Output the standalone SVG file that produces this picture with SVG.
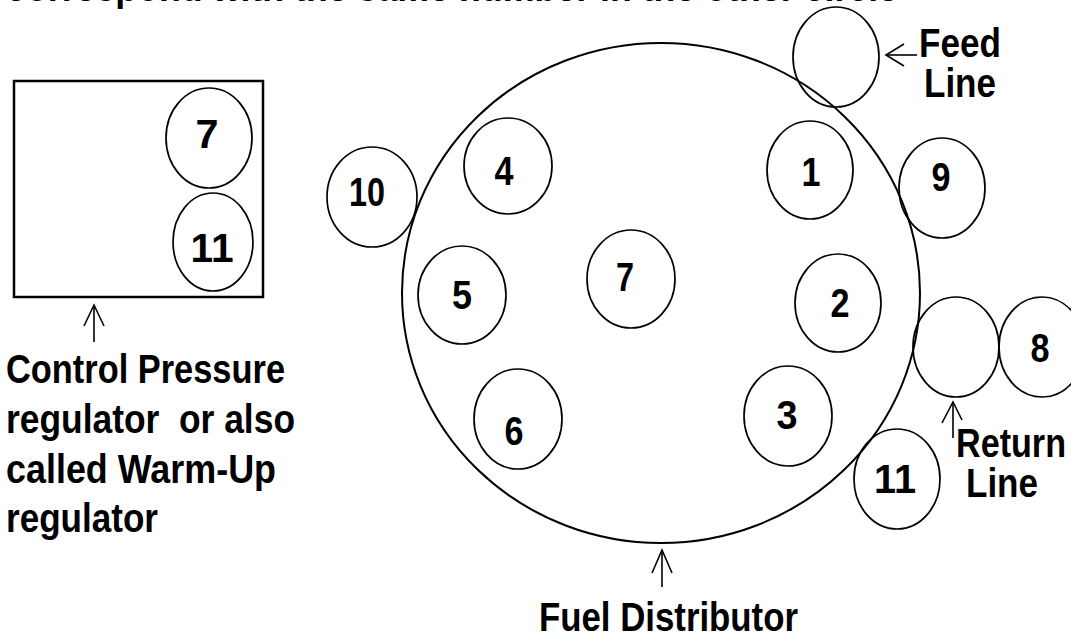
<svg xmlns="http://www.w3.org/2000/svg" width="1071" height="633" viewBox="0 0 1071 633">
<style>
.c{fill:none;stroke:#000;stroke-width:1.7}
.big{fill:none;stroke:#000;stroke-width:2}
.box{fill:none;stroke:#000;stroke-width:2.5}
.t{font-family:"Liberation Sans",Arial,sans-serif;font-weight:bold;font-size:40px;fill:#000;white-space:pre}
.n{font-family:"Liberation Sans",Arial,sans-serif;font-weight:bold;font-size:41px;fill:#000;text-anchor:middle}
.a{fill:none;stroke:#000;stroke-width:1.6}
</style>
<rect width="1071" height="633" fill="#fff"/>
<text class="t" x="6" y="1" textLength="892" lengthAdjust="spacingAndGlyphs">correspond with the same number in the other circle</text>
<g id="control-pressure-regulator">
<rect class="box" x="14" y="81" width="249" height="216"/>
<text class="t" x="6" y="383" textLength="279" lengthAdjust="spacingAndGlyphs">Control Pressure</text>
<text class="t" x="6" y="433" textLength="289" lengthAdjust="spacingAndGlyphs">regulator  or also</text>
<text class="t" x="6" y="483" textLength="270" lengthAdjust="spacingAndGlyphs">called Warm-Up</text>
<text class="t" x="6" y="532" textLength="152" lengthAdjust="spacingAndGlyphs">regulator</text>
</g>
<g id="cpr-7"><ellipse class="c" cx="209" cy="138" rx="43" ry="50"/><text class="n" x="207" y="148" textLength="23" lengthAdjust="spacingAndGlyphs">7</text></g>
<g id="cpr-11"><ellipse class="c" cx="213" cy="242" rx="40" ry="49"/><text class="n" x="212" y="262" textLength="43" lengthAdjust="spacingAndGlyphs">11</text></g>
<g id="fuel-distributor">
<ellipse class="big" cx="661" cy="293" rx="259" ry="250"/>
<text class="t" x="539" y="631" textLength="259" lengthAdjust="spacingAndGlyphs">Fuel Distributor</text>
</g>
<g id="port-1"><ellipse class="c" cx="810" cy="170" rx="43" ry="49"/><text class="n" x="811" y="186" textLength="19" lengthAdjust="spacingAndGlyphs">1</text></g>
<g id="port-2"><ellipse class="c" cx="838" cy="303" rx="43" ry="49"/><text class="n" x="840" y="317" textLength="19" lengthAdjust="spacingAndGlyphs">2</text></g>
<g id="port-3"><ellipse class="c" cx="788" cy="416" rx="44" ry="50"/><text class="n" x="787" y="429" textLength="21" lengthAdjust="spacingAndGlyphs">3</text></g>
<g id="port-4"><ellipse class="c" cx="508" cy="166" rx="44" ry="48"/><text class="n" x="504" y="185" textLength="19" lengthAdjust="spacingAndGlyphs">4</text></g>
<g id="port-5"><ellipse class="c" cx="462" cy="295" rx="44" ry="49"/><text class="n" x="462" y="309" textLength="20" lengthAdjust="spacingAndGlyphs">5</text></g>
<g id="port-6"><ellipse class="c" cx="518" cy="419" rx="44" ry="50"/><text class="n" x="514" y="445" textLength="19" lengthAdjust="spacingAndGlyphs">6</text></g>
<g id="port-7"><ellipse class="c" cx="631" cy="279" rx="44" ry="49"/><text class="n" x="625" y="291" textLength="18" lengthAdjust="spacingAndGlyphs">7</text></g>
<g id="port-8"><ellipse class="c" cx="1042" cy="347" rx="43" ry="50"/><text class="n" x="1040" y="362" textLength="19" lengthAdjust="spacingAndGlyphs">8</text></g>
<g id="port-9"><ellipse class="c" cx="942" cy="188" rx="43" ry="50"/><text class="n" x="941" y="191" textLength="19" lengthAdjust="spacingAndGlyphs">9</text></g>
<g id="port-10"><ellipse class="c" cx="372" cy="197" rx="45" ry="50"/><text class="n" x="367" y="206" textLength="36" lengthAdjust="spacingAndGlyphs">10</text></g>
<g id="port-11"><ellipse class="c" cx="897" cy="479" rx="43" ry="50"/><text class="n" x="895" y="493" textLength="42" lengthAdjust="spacingAndGlyphs">11</text></g>
<g id="feed-line">
<ellipse class="c" cx="836" cy="57" rx="43" ry="50"/>
<text class="t" x="919" y="57" textLength="82" lengthAdjust="spacingAndGlyphs">Feed</text>
<text class="t" x="924" y="97" textLength="72" lengthAdjust="spacingAndGlyphs">Line</text>
</g>
<g id="return-line">
<ellipse class="c" cx="956" cy="347" rx="43" ry="50"/>
<text class="t" x="956" y="457" textLength="110" lengthAdjust="spacingAndGlyphs">Return</text>
<text class="t" x="966" y="497" textLength="72" lengthAdjust="spacingAndGlyphs">Line</text>
</g>
<g id="connectors">
<line class="a" x1="917" y1="55" x2="886" y2="55"/><polyline class="a" points="904,44 886,55 904,66"/>
<line class="a" x1="94" y1="342" x2="94" y2="305"/><polyline class="a" points="84,326 94,305 104,326"/>
<line class="a" x1="662" y1="587" x2="662" y2="550"/><polyline class="a" points="652,573 662,550 672,573"/>
<line class="a" x1="953" y1="438" x2="953" y2="402"/><polyline class="a" points="942,423 953,402 962,420"/>
</g>
</svg>
